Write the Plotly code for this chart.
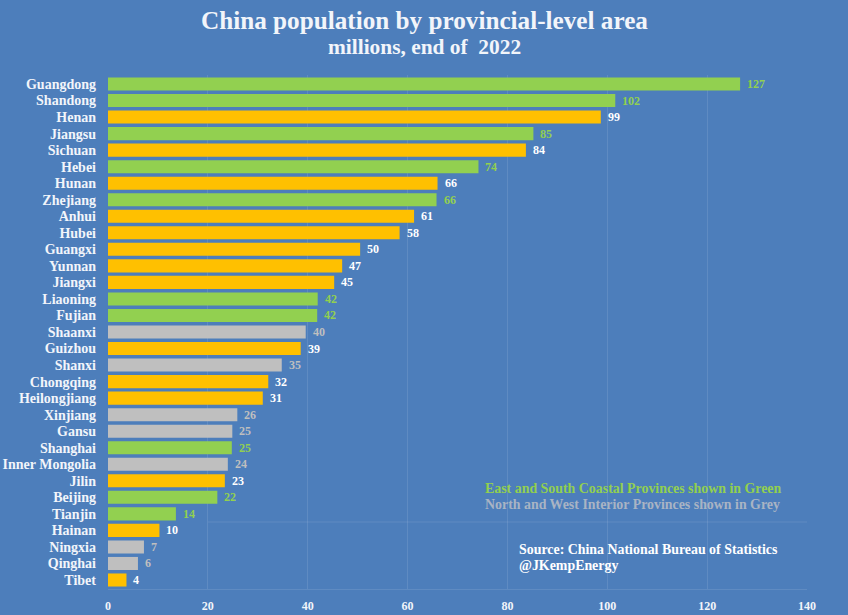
import plotly.graph_objects as go

provinces = ["Guangdong","Shandong","Henan","Jiangsu","Sichuan","Hebei","Hunan","Zhejiang","Anhui","Hubei","Guangxi","Yunnan","Jiangxi","Liaoning","Fujian","Shaanxi","Guizhou","Shanxi","Chongqing","Heilongjiang","Xinjiang","Gansu","Shanghai","Inner Mongolia","Jilin","Beijing","Tianjin","Hainan","Ningxia","Qinghai","Tibet"]
bar_lengths = [126.6,101.6,98.7,85.2,83.7,74.2,66.0,65.8,61.3,58.4,50.5,46.9,45.3,42.0,41.9,39.6,38.6,34.8,32.1,31.0,25.9,24.9,24.8,24.0,23.4,21.9,13.6,10.3,7.2,6.0,3.7]
value_labels = [127,102,99,85,84,74,66,66,61,58,50,47,45,42,42,40,39,35,32,31,26,25,25,24,23,22,14,10,7,6,4]
groups = ["g","g","o","g","o","g","o","g","o","o","o","o","o","g","g","s","o","s","o","o","s","s","g","s","o","g","g","o","s","s","o"]

BG = "#4D7EBB"
bar_colors = {"g": "#92D050", "o": "#FFC000", "s": "#BFBFBF"}
label_colors = {"g": "#92D050", "o": "#FFFFFF", "s": "#BFBFBF"}
FONT = "Liberation Serif"

fig = go.Figure(go.Bar(
    y=provinces, x=bar_lengths, orientation="h", width=0.79,
    marker=dict(color=[bar_colors[g] for g in groups], line=dict(width=0)),
    hoverinfo="x+y",
))

for name, v, lab, g in zip(provinces, bar_lengths, value_labels, groups):
    fig.add_annotation(text=f"<b>{lab}</b>", x=v, y=name, xref="x", yref="y", xshift=5,
                       xanchor="left", yanchor="middle", showarrow=False,
                       font=dict(family=FONT, size=12, color=label_colors[g]))

X0, X1, Y0, Y1 = 108, 807, 75, 589

def px(x): return (x - X0) / (X1 - X0)
def py(y): return (Y1 - y) / (Y1 - Y0)

def note(text, x, y, color, size=13.9):
    fig.add_annotation(text=f"<b>{text}</b>", xref="paper", yref="paper", x=px(x), y=py(y),
                       xanchor="left", yanchor="middle", showarrow=False,
                       font=dict(family=FONT, size=size, color=color))

note("East and South Coastal Provinces shown in Green", 483, 488.5, "#92D050")
note("North and West Interior Provinces shown in Grey", 483, 504.5, "#A9B4C4")
note("Source: China National Bureau of Statistics", 517, 549.5, "#FFFFFF")
note("@JKempEnergy", 517, 565.5, "#FFFFFF")

for txt, y, size in [("China population by provincial-level area", 21, 25.2), ("millions, end of  2022", 47, 21.4)]:
    fig.add_annotation(text=f"<b>{txt}</b>", xref="paper", yref="paper", x=px(424), y=py(y),
                       xanchor="center", yanchor="middle", showarrow=False,
                       font=dict(family=FONT, size=size, color="#F2F5FA"))

grid = "rgba(255,255,255,0.1)"
fig.add_shape(type="line", xref="paper", yref="paper", x0=px(208), x1=1, y0=py(522), y1=py(522), line=dict(color=grid, width=1))

fig.update_layout(
    width=848, height=615, autosize=False,
    paper_bgcolor=BG, plot_bgcolor=BG, showlegend=False,
    margin=dict(l=X0, r=848 - X1, t=Y0, b=615 - Y1, autoexpand=False),
    font=dict(family=FONT, color="#FFFFFF"),
    bargap=0.2,
    xaxis=dict(range=[0, 140], tick0=0, dtick=20, side="bottom", showgrid=True, gridcolor=grid, gridwidth=1,
               zeroline=False, showline=True, linecolor=grid, ticks="", ticklen=0, ticklabelstandoff=6,
               automargin=False, tickfont=dict(family=FONT, size=12, color="#F2F5FA", weight="bold")),
    yaxis=dict(autorange="reversed", type="category", dtick=1, showgrid=False, zeroline=False, showline=False, ticks="",
               ticklabelstandoff=11, automargin=False, tickfont=dict(family=FONT, size=14, color="#F2F5FA", weight="bold")),
)
fig.write_html("out.html", config={"displayModeBar": False}, post_script="document.body.style.margin='0';")
